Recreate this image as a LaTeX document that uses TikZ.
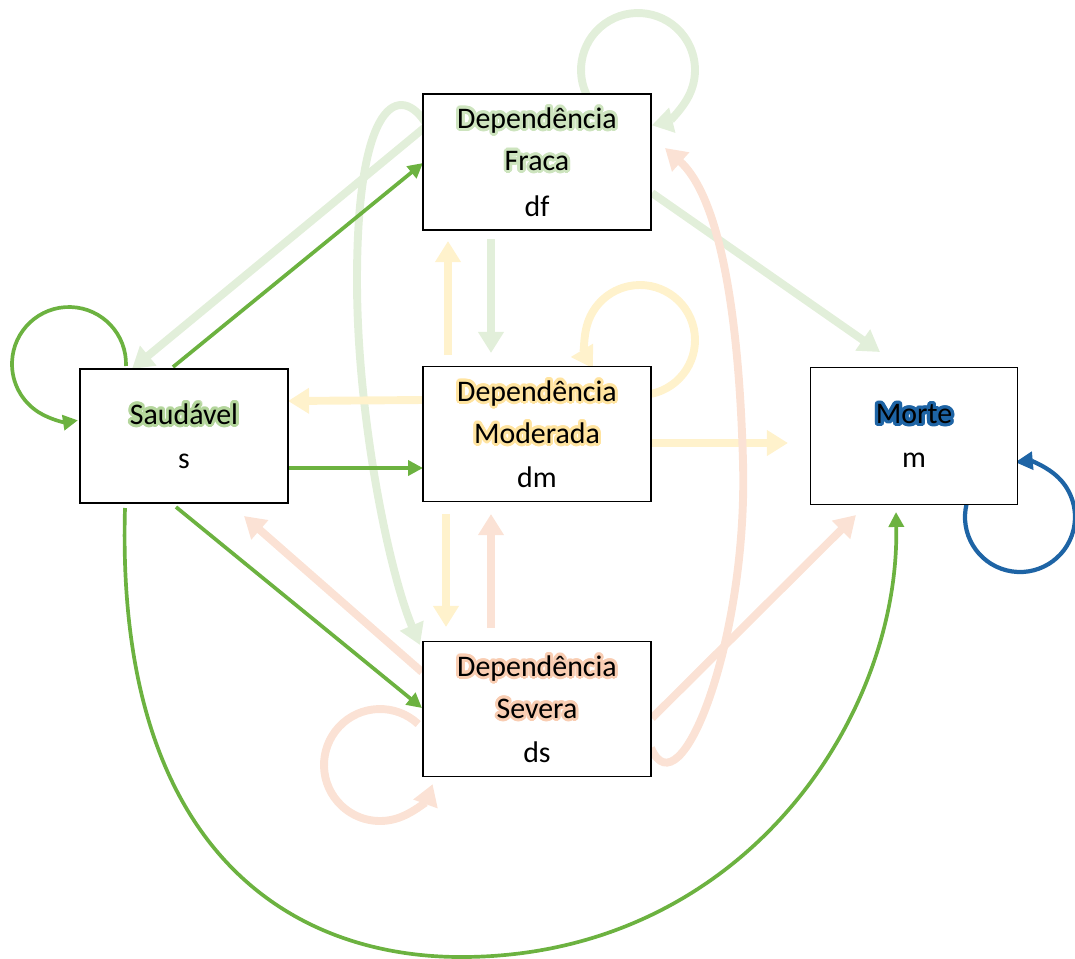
\documentclass[tikz,border=0pt]{standalone}
\usepackage{fontspec}
\setmainfont{Carlito}
\usepackage{contour}
\contourlength{1.6pt}
\contournumber{24}
\usetikzlibrary{arrows.meta,calc}
\definecolor{dg}{RGB}{108,178,64}
\definecolor{lg}{RGB}{226,239,218}
\definecolor{ly}{RGB}{255,242,204}
\definecolor{ls}{RGB}{251,226,213}
\definecolor{bl}{RGB}{30,100,165}
\definecolor{ggl}{RGB}{205,228,190}
\definecolor{ggs}{RGB}{180,214,156}
\definecolor{gyl}{RGB}{255,228,160}
\definecolor{gsl}{RGB}{249,205,178}
\pgfdeclarelayer{bg}
\pgfsetlayers{bg,main}
\begin{document}
\begin{tikzpicture}[x=0.02cm,y=-0.02cm,
  statebox/.style={draw=black, line width=1.1pt, fill=white, align=center,
    inner sep=0pt, font=\fontsize{17}{24}\selectfont},
  thk/.style={line width=4.5pt, -{Triangle[width=14pt,length=12pt]}},
  thn/.style={line width=2.1pt, -{Triangle[width=8.5pt,length=8.5pt]}},
  blu/.style={line width=2.4pt, bl, -{Triangle[width=10pt,length=10pt]}}]
\useasboundingbox (0,0) rectangle (1075,958);

\node[statebox, minimum width=4.56cm, minimum height=2.72cm] (df) at (537,162)
  {\contour{ggl}{Dependência}\\\contour{ggl}{Fraca}\\[2pt]df};
\node[statebox, minimum width=4.16cm, minimum height=2.68cm] (s) at (184,436)
  {\contour{ggs}{Saudável}\\[1pt]s};
\node[statebox, minimum width=4.56cm, minimum height=2.70cm] (dm) at (537,434)
  {\contour{gyl}{Dependência}\\\contour{gyl}{Moderada}\\[1pt]dm};
\node[statebox, minimum width=4.14cm, minimum height=2.74cm] (m) at (914,436)
  {{\contourlength{1.9pt}\contour{bl}{Morte}}\\[1pt]m};
\node[statebox, minimum width=4.56cm, minimum height=2.70cm] (ds) at (537,709)
  {\contour{gsl}{Dependência}\\\contour{gsl}{Severa}\\[1pt]ds};

\begin{pgfonlayer}{bg}
% light green (from df)
\draw[thk,lg] ($(df)+(-113,-34)$) -- ($(s)+(-52,-67)$);
\draw[thk,lg] ($(df)+(-46,77)$) -- ($(dm)+(-46,-81)$);
\draw[thk,lg] ($(df)+(115,31)$) -- ($(m)+(-34,-84)$);
\coordinate (c1) at ($(df)+(101,-92)$);
\draw[thk,lg] ($(c1)+(144:57)$) arc[start angle=144,end angle=436,radius=57];
\coordinate (k1) at ($(df)+(-180,118)$);
\draw[thk,lg] ($(df)+(-110,-37)$) .. controls +(-27,-44) and +(0,-180) .. (k1)
  .. controls +(0,140) and +(-30,-70) .. ($(ds)+(-117,-64)$);
% yellow (from dm)
\draw[thk,ly] ($(dm)+(-89,-79)$) -- ($(df)+(-89,79)$);
\draw[thk,ly] ($(dm)+(-114,-34)$) -- ($(s)+(104,-35)$);
\draw[thk,ly] ($(dm)+(114,9)$) -- ($(m)+(-126,7)$);
\draw[thk,ly] ($(dm)+(-91,80)$) -- ($(ds)+(-91,-82)$);
\coordinate (c2) at ($(dm)+(103,-94)$);
\draw[thk,ly] ($(c2)+(78:55)$) arc[start angle=78,end angle=-211,radius=55];
% salmon (from ds)
\draw[thk,ls] ($(ds)+(-46,-81)$) -- ($(dm)+(-46,80)$);
\draw[thk,ls] ($(ds)+(-115,-37)$) -- ($(s)+(60,80)$);
\draw[thk,ls] ($(ds)+(115,9)$) -- ($(m)+(-58,79)$);
\coordinate (c3) at ($(ds)+(-157,56)$);
\draw[thk,ls] ($(c3)+(-47:56)$) arc[start angle=-47,end angle=-340,radius=56];
\coordinate (k2) at ($(ds)+(206,-247)$);
\draw[thk,ls] ($(ds)+(114,39)$) .. controls +(29,67) and +(5,178) .. (k2)
  .. controls +(-5,-182) and +(47,42) .. ($(df)+(128,-14)$);
% dark green (from s)
\coordinate (c4) at ($(s)+(-115,-72)$);
\draw[thn,dg] ($(c4)+(2:57)$) arc[start angle=2,end angle=-279,radius=57];
\draw[thn,dg] ($(s)+(-11,-69)$) -- ($(df)+(-114,1)$);
\draw[thn,dg] ($(s)+(104,32)$) -- ($(dm)+(-114,34)$);
\draw[thn,dg] ($(s)+(-8,71)$) -- ($(ds)+(-115,-1)$);
\coordinate (k3) at ($(ds)+(-76,248)$);
\draw[thn,dg] ($(s)+(-59,72)$) .. controls +(-10,342) and +(-171,0) .. (k3)
  .. controls +(279,0) and +(4,208) .. ($(m)+(-18,76)$);
% blue (m)
\coordinate (c5) at ($(m)+(106,81)$);
\draw[blu] ($(c5)+(194:55)$) arc[start angle=194,end angle=-95,radius=55];
\end{pgfonlayer}
\end{tikzpicture}
\end{document}
